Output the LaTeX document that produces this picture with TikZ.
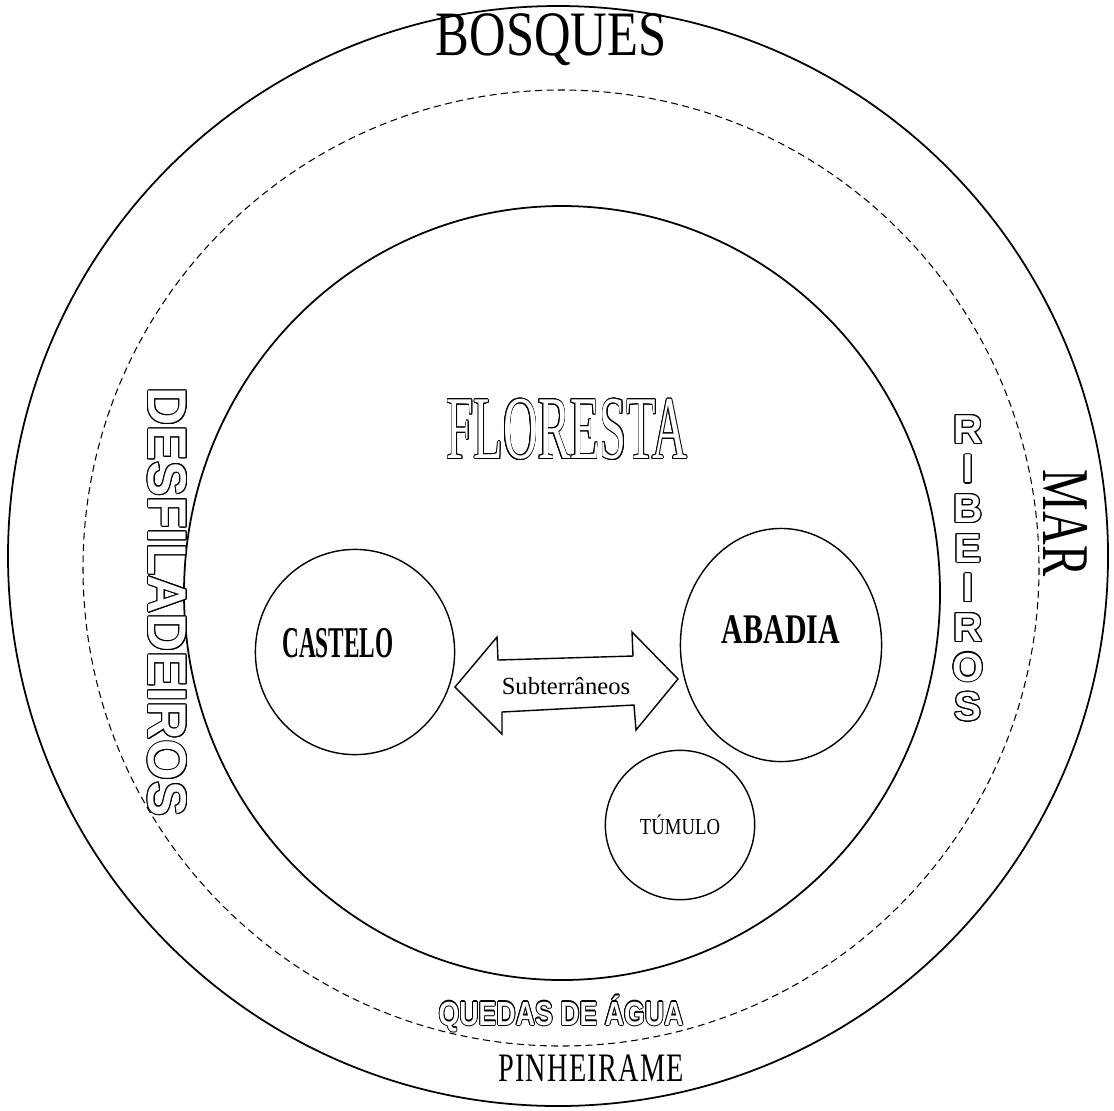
\documentclass[tikz,border=0pt]{standalone}
\usepackage{fontspec}
\setmainfont{Liberation Serif}
\newfontfamily\blockfont{Liberation Sans}
\usepackage{contour}
\contourlength{0.6pt}
\usetikzlibrary{shapes.geometric}

\newcommand{\hollow}[1]{{\color{white}\contour{black}{#1}}}

\begin{document}
\begin{tikzpicture}[
        x=0.02cm,
        y=-0.02cm,
        ring/.style={draw, line width=1pt},
        dashring/.style={draw, line width=0.6pt, dash pattern=on 4pt off 2.5pt},
        place/.style={
            ellipse,
            draw,
            line width=0.8pt,
            inner sep=0pt
        },
        tunnel/.style={draw, line width=0.8pt, fill=white, line join=miter},
        label/.style={inner sep=0pt}
    ]
    \useasboundingbox (0,0) rectangle (1114,1110);

    % Rings
    \draw[ring] (558,556) circle [radius=550];
    \draw[dashring] (561,568) circle [radius=478];
    \draw[ring] (562,593) ellipse [x radius=378, y radius=387];

    % Ring labels
    \node[label] (bosques) at (551,40)
        {\fontsize{36}{36}\selectfont\scalebox{0.8}[1]{BOSQUES}};
    \node[label] (pinheirame) at (591,1068)
        {\fontsize{23}{23}\selectfont\scalebox{0.7}[1]{P\kern1ptI\kern1ptN\kern1ptH\kern1ptE\kern1ptI\kern1ptR\kern1ptA\kern1ptM\kern1ptE}};
    \node[label, rotate=-90] (mar) at (1066,523)
        {\fontsize{38}{38}\selectfont\scalebox{0.7}[1]{MAR}};
    \node[label, rotate=-90] (desfiladeiros) at (167,602)
        {\blockfont\bfseries\fontsize{31}{31}\selectfont\scalebox{0.97}[1]{\hollow{DESFILADEIROS}}};
    \node[label] (quedas) at (561,1014)
        {\blockfont\bfseries\fontsize{19}{19}\selectfont\scalebox{0.8}[1]{\hollow{QUEDAS DE ÁGUA}}};

    % Ribeiros, one letter under the other
    \foreach \letra [count=\i] in {R,I,B,E,I,R,O,S}
        \node[label] (rib\i) at (968,430+39.6*\i-39.6)
            {\blockfont\bfseries\fontsize{23}{23}\selectfont\hollow{\letra}};

    % Forest
    \node[label] (floresta) at (567,430)
        {\fontsize{51}{51}\selectfont\scalebox{0.54}[1]{\hollow{FLORESTA}}};

    % Places
    \node[place, minimum width=113.4pt, minimum height=116.8pt] (castelo) at (355,652) {};
    \node[label] (castelotxt) at (338,643)
        {\bfseries\fontsize{25}{25}\selectfont\scalebox{0.53}[1]{CASTELO}};

    \node[place, minimum width=114.5pt, minimum height=132.7pt] (abadia) at (781,645) {};
    \node[label] (abadiatxt) at (781,630)
        {\bfseries\fontsize{24}{24}\selectfont\scalebox{0.71}[1]{ABADIA}};

    \node[place, minimum width=85pt, minimum height=85pt] (tumulo) at (680,825) {};
    \node[label] (tumulotxt) at (680,825)
        {\fontsize{13}{13}\selectfont\scalebox{0.82}[1]{TÚMULO}};

    % Underground passage
    \draw[tunnel] (455,687) -- (497,637) -- (498,660) -- (633,656) -- (632,632)
        -- (678,679) -- (636,730) -- (634,705) -- (502,712) -- (502,734) -- cycle;
    \node[label] (subterraneos) at (566,686)
        {\fontsize{14}{14}\selectfont Subterrâneos};

\end{tikzpicture}
\end{document}
